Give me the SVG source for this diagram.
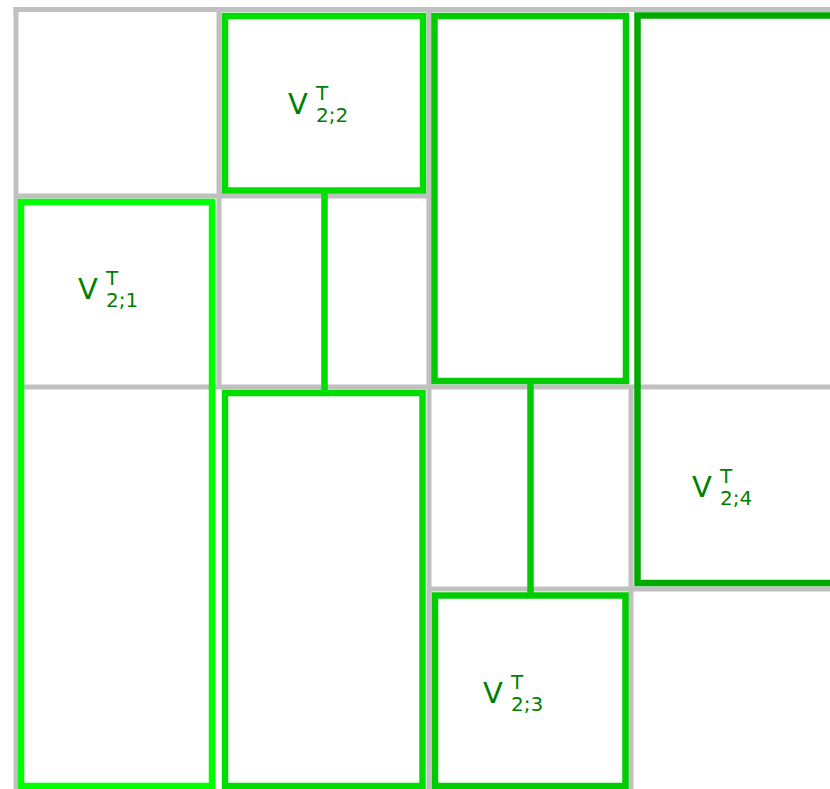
<svg xmlns="http://www.w3.org/2000/svg" width="830" height="789" viewBox="0 0 830 789">
<style>
.grid{stroke:#c0c0c0;stroke-width:5;fill:none}
.box{fill:none;stroke-width:6.5}
.lbl{font-family:"DejaVu Sans","Liberation Sans",sans-serif;fill:#008000}
.big{font-size:29px}
.sm{font-size:20px}
.c1{stroke:#00ff00}
.c2{stroke:#00dd00}
.c3{stroke:#00cc00}
.c4{stroke:#00aa00}
</style>
<rect width="830" height="789" fill="#ffffff"/>
<g id="grid" class="grid">
<line x1="13.5" y1="9.5" x2="830" y2="9.5"/>
<line x1="16" y1="7" x2="16" y2="789"/>
<line x1="219" y1="9.5" x2="219" y2="387"/>
<line x1="16" y1="196" x2="429" y2="196"/>
<line x1="429" y1="9.5" x2="429" y2="789"/>
<line x1="16" y1="387" x2="830" y2="387"/>
<line x1="631" y1="387" x2="631" y2="789"/>
<line x1="429" y1="589" x2="830" y2="589"/>
</g>
<g id="connectors" class="box">
<line class="c2" x1="324.5" y1="190" x2="324.5" y2="393"/>
<line class="c3" x1="530.5" y1="381" x2="530.5" y2="595.5"/>
</g>
<g id="V21">
<rect class="box c1" x="21" y="202" width="191" height="584"/>
<text class="lbl big" x="78" y="299">V</text>
<text class="lbl sm" x="106" y="285">T</text>
<text class="lbl sm" x="106" y="307">2;1</text>
</g>
<g id="V22">
<rect class="box c2" x="225" y="16" width="198" height="174.5"/>
<rect class="box c2" x="225" y="393" width="197.5" height="393"/>
<text class="lbl big" x="288" y="114">V</text>
<text class="lbl sm" x="316" y="100">T</text>
<text class="lbl sm" x="316" y="122">2;2</text>
</g>
<g id="V23">
<rect class="box c3" x="434.5" y="16" width="191.5" height="365"/>
<rect class="box c3" x="435" y="595.5" width="190.5" height="190.5"/>
<text class="lbl big" x="483" y="703">V</text>
<text class="lbl sm" x="511" y="689">T</text>
<text class="lbl sm" x="511" y="711">2;3</text>
</g>
<g id="V24">
<rect class="box c4" x="637.5" y="15.5" width="200" height="567.5"/>
<text class="lbl big" x="692" y="497">V</text>
<text class="lbl sm" x="720" y="483">T</text>
<text class="lbl sm" x="720" y="505">2;4</text>
</g>
</svg>
